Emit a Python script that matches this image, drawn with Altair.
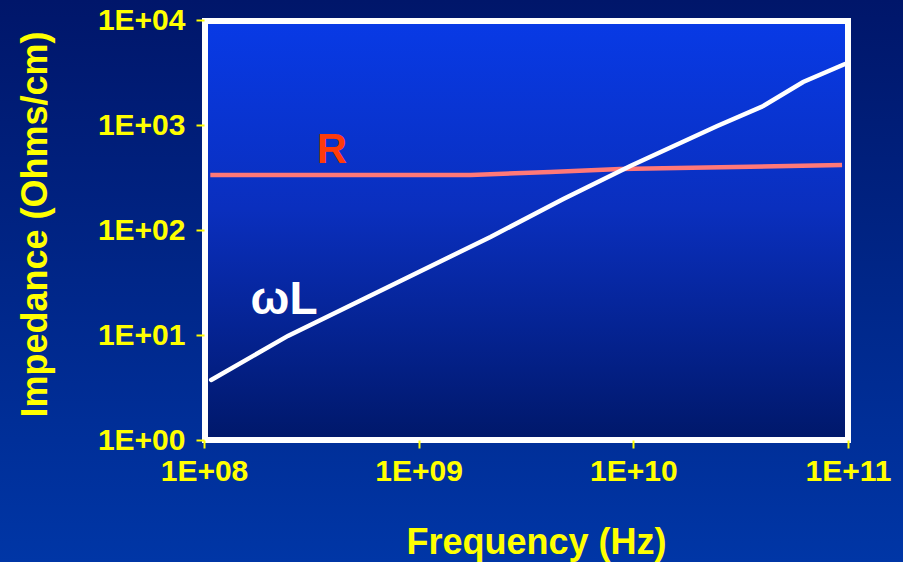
import json
import altair as alt
import pandas as pd

# ---- data ----
wl_freq = [1.08e8, 2.46e8, 2.16e9, 4.72e9, 9.68e9, 2.46e10, 4.03e10, 6.18e10, 9.68e10]
wl_imp = [3.73, 9.8, 85.8, 197, 407, 978, 1517, 2570, 3810]

r_freq = [1.07e8, 6.87e8, 1.75e9, 4.1e9, 8.7e9, 9.38e10]
r_imp = [334, 334, 334, 357, 381, 416]

x_ticks = [1e8, 1e9, 1e10, 1e11]
x_tick_labels = ["1E+08", "1E+09", "1E+10", "1E+11"]
y_ticks = [1, 10, 100, 1000, 10000]
y_tick_labels = ["1E+00", "1E+01", "1E+02", "1E+03", "1E+04"]

label_text = ["R", "ωL"]
label_freq = [3.94e8, 2.36e8]
label_imp = [434, 15.8]
label_color = ["#ff3b0a", "#ffffff"]
label_size = [42, 46]

FONT = "Liberation Sans"
YELLOW = "#ffff00"
W, H = 644, 420
LEFT, TOP = 204, 20

df_wl = pd.DataFrame({"f": wl_freq, "z": wl_imp, "s": "wL"})
df_r = pd.DataFrame({"f": r_freq, "z": r_imp, "s": "R"})
df_lab = pd.DataFrame({"t": label_text, "f": label_freq, "z": label_imp,
                       "c": label_color, "sz": label_size})
one = pd.DataFrame({"a": [0]})

x_scale = alt.Scale(type="log", domain=[1e8, 1e11], nice=False)
y_scale = alt.Scale(type="log", domain=[1, 1e4], nice=False)

x_axis = alt.Axis(
    values=x_ticks,
    labelExpr=json.dumps(x_tick_labels) + "[round(log(datum.value)/LN10)-8]",
    title="Frequency (Hz)",
    domain=False, grid=False,
    tickColor=YELLOW, tickWidth=2, tickSize=8,
    labelColor=YELLOW, labelFont=FONT, labelFontWeight="bold", labelFontSize=30,
    labelPadding=8, labelFlush=False, labelOverlap=False,
    titleColor=YELLOW, titleFont=FONT, titleFontWeight="bold", titleFontSize=36,
    titleX=332, titleY=113, titleBaseline="alphabetic", titleAnchor="middle",
    zindex=2,
)
y_axis = alt.Axis(
    values=y_ticks,
    labelExpr=json.dumps(y_tick_labels) + "[round(log(datum.value)/LN10)]",
    title="Impedance (Ohms/cm)",
    domain=False, grid=False,
    tickColor=YELLOW, tickWidth=2, tickSize=8,
    labelColor=YELLOW, labelFont=FONT, labelFontWeight="bold", labelFontSize=30,
    labelPadding=11, labelFlush=False, labelOverlap=False,
    titleColor=YELLOW, titleFont=FONT, titleFontWeight="bold", titleFontSize=36,
    titleAngle=270, titleX=-158, titleY=204, titleBaseline="alphabetic", titleAnchor="middle",
    zindex=2,
)

page_bg = alt.Chart(one).mark_rect(
    color=alt.LinearGradient(
        gradient="linear", x1=0, x2=0, y1=0, y2=1,
        stops=[alt.GradientStop(color="#00166a", offset=0),
               alt.GradientStop(color="#0036a6", offset=1)],
    )
).encode(
    x=alt.value(-LEFT), x2=alt.value(903 - LEFT),
    y=alt.value(-TOP), y2=alt.value(562 - TOP),
)

plot_bg = alt.Chart(one).mark_rect(
    color=alt.LinearGradient(
        gradient="linear", x1=0, x2=0, y1=0, y2=1,
        stops=[alt.GradientStop(color="#083ae6", offset=0),
               alt.GradientStop(color="#0a2fbe", offset=0.45),
               alt.GradientStop(color="#00186a", offset=1)],
    )
).encode(x=alt.value(0), x2=alt.value(W), y=alt.value(0), y2=alt.value(H))

border = alt.Chart(one).mark_rect(
    fill="transparent", stroke="#ffffff", strokeWidth=6
).encode(x=alt.value(1), x2=alt.value(W), y=alt.value(1), y2=alt.value(H))

wl_line = alt.Chart(df_wl).mark_line(color="#ffffff", strokeWidth=4.5, strokeCap="round").encode(
    x=alt.X("f:Q", scale=x_scale, axis=x_axis),
    y=alt.Y("z:Q", scale=y_scale, axis=y_axis),
)
r_line = alt.Chart(df_r).mark_line(color="#ff7878", strokeWidth=4.5).encode(
    x=alt.X("f:Q", scale=x_scale),
    y=alt.Y("z:Q", scale=y_scale),
)
labels = alt.Chart(df_lab).mark_text(
    font=FONT, fontWeight="bold", align="center", baseline="alphabetic"
).encode(
    x=alt.X("f:Q", scale=x_scale),
    y=alt.Y("z:Q", scale=y_scale),
    text="t:N",
    color=alt.Color("c:N", scale=None),
    size=alt.Size("sz:Q", scale=None),
)

chart = alt.layer(page_bg, plot_bg, r_line, wl_line, labels, border).properties(
    width=W, height=H,
    autosize=alt.AutoSizeParams(type="none"),
    padding={"left": LEFT, "top": TOP, "right": 903 - LEFT - W, "bottom": 562 - TOP - H},
    background="#00166a",
).configure_view(stroke=None)

chart.save("out.html", embed_options={"renderer": "svg", "actions": False})
